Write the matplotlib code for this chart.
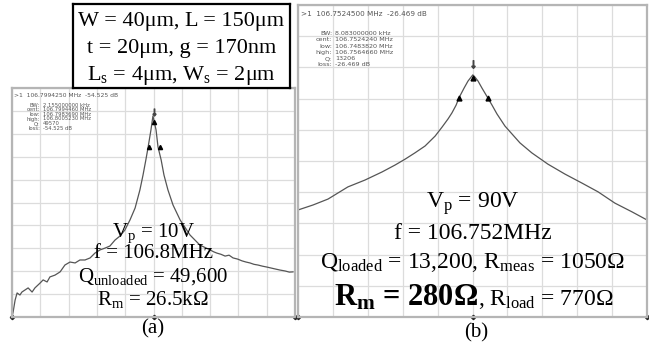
import matplotlib
matplotlib.use("Agg")
import matplotlib.pyplot as plt

plt.rcParams["font.family"] = ["Liberation Serif", "DejaVu Serif"]
plt.rcParams["mathtext.fontset"] = "custom"
plt.rcParams["mathtext.rm"] = "Liberation Serif"
plt.rcParams["mathtext.it"] = "Liberation Serif:italic"
plt.rcParams["mathtext.bf"] = "Liberation Serif:bold"

# screen traces in grid divisions (x from left, y from bottom), 10 x 10 grid
a_x = [0.00, 0.04, 0.11, 0.18, 0.28, 0.35, 0.46, 0.57, 0.71, 0.81, 0.99, 1.10, 1.24,
       1.34, 1.52, 1.70, 1.87, 2.05, 2.23, 2.40, 2.58, 2.76, 2.93, 3.11, 3.29, 3.46,
       3.64, 3.82, 3.99, 4.17, 4.35, 4.52, 4.63, 4.73, 4.81, 4.91, 4.98, 5.09, 5.16,
       5.27, 5.37, 5.51, 5.69, 5.94, 6.29, 6.64, 7.00, 7.12, 7.24, 7.38, 7.53, 7.67,
       7.81, 7.97, 8.13, 8.27, 8.41, 8.55, 8.69, 8.85, 9.01, 9.15, 9.29, 9.47, 9.65,
       9.80, 9.93]
a_y = [0.00, 0.22, 0.74, 1.05, 0.96, 1.09, 1.18, 1.27, 1.09, 1.27, 1.48, 1.62, 1.53,
       1.75, 1.83, 1.97, 2.27, 2.40, 2.36, 2.49, 2.49, 2.58, 2.79, 2.93, 3.01, 3.10,
       3.36, 3.54, 3.80, 4.24, 4.76, 5.55, 6.20, 6.86, 7.42, 8.17, 8.78, 8.17, 7.42,
       6.86, 6.20, 5.55, 4.89, 4.24, 3.58, 3.14, 2.93, 2.85, 2.79, 2.74, 2.66, 2.70,
       2.58, 2.53, 2.45, 2.40, 2.36, 2.30, 2.27, 2.22, 2.18, 2.14, 2.10, 2.05, 2.01,
       1.96, 1.97]
a_mark_x = [4.84, 5.00, 5.24]
a_mark_y = [7.42, 8.52, 7.42]

b_x = [0.00, 0.43, 0.86, 1.43, 1.92, 2.41, 2.78, 3.07, 3.35, 3.64, 3.93, 4.13, 4.30,
       4.41, 4.53, 4.61, 4.76, 4.87, 4.96, 5.01, 5.07, 5.16, 5.27, 5.44, 5.56, 5.70,
       5.93, 6.36, 6.70, 7.16, 7.65, 8.14, 8.60, 9.08, 9.57, 10.00]
b_y = [3.43, 3.59, 3.78, 4.17, 4.39, 4.65, 4.87, 5.06, 5.26, 5.48, 5.80, 6.09, 6.35,
       6.54, 6.79, 7.02, 7.34, 7.56, 7.69, 7.76, 7.69, 7.56, 7.34, 7.02, 6.79, 6.51,
       6.12, 5.58, 5.26, 4.90, 4.58, 4.29, 4.01, 3.65, 3.37, 3.11]
b_mark_x = [4.61, 5.01, 5.44]
b_mark_y = [7.02, 7.66, 7.02]

ref_x = [0, 5, 10]
ref_y = [0, 0, 0]

a_header = ">1  106.7994250 MHz  -54.525 dB"
b_header = ">1  106.7524500 MHz  -26.469 dB"
stat_labels = ["BW:", "cent:", "low:", "high:", "Q:", "loss:"]
a_values = ["2.155000000 kHz", "106.7994460 MHz", "106.7983690 MHz",
            "106.8005230 MHz", "49570", "-54.525 dB"]
b_values = ["8.083000000 kHz", "106.7524240 MHz", "106.7483820 MHz",
            "106.7564660 MHz", "13206", "-26.469 dB"]

params = ["W = 40μm, L = 150μm", "t = 20μm, g = 170nm",
          r"L$_\mathrm{s}$ = 4μm, W$_\mathrm{s}$ = 2μm"]
a_notes = [r"V$_\mathrm{p}$ = 10V", "f = 106.8MHz",
           r"Q$_\mathrm{unloaded}$ = 49,600", r"R$_\mathrm{m}$ = 26.5kΩ"]
b_notes = [r"V$_\mathrm{p}$ = 90V", "f = 106.752MHz",
           r"Q$_\mathrm{loaded}$ = 13,200, R$_\mathrm{meas}$ = 1050Ω"]
b_bold = r"R$_\mathbf{m}$ = 280Ω"
b_load = r", R$_\mathrm{load}$ = 770Ω"

W, H = 649.0, 350.0


def px(x, y):
    return x / W, 1 - y / H


def screen(fig, rect, xs, ys, mx, my, ms):
    x0, y0, x1, y1 = rect
    ax = fig.add_axes([x0 / W, 1 - y1 / H, (x1 - x0) / W, (y1 - y0) / H])
    ax.set_xlim(0, 10)
    ax.set_ylim(0, 10)
    ax.set_xticks(range(11))
    ax.set_yticks(range(11))
    ax.grid(True, color="#dcdcdc", lw=0.9)
    ax.tick_params(length=0, labelbottom=False, labelleft=False)
    for s in ax.spines.values():
        s.set_color("#b5b5b5")
        s.set_linewidth(1.6)
    ax.plot(xs, ys, color="#555555", lw=0.9)
    ax.plot(mx, my, "^", color="black", ms=ms, lw=0)
    ax.plot(ref_x, ref_y, "D", color="#222222", ms=2.2, lw=0, clip_on=False)
    ax.plot(mx[1], my[1] + 0.45, marker=r"$\downarrow$", color="#444444", ms=ms + 2)
    return ax


def stats(fig, hx, hy, cx, y0, dy, header, values, size, hsize):
    fig.text(*px(hx, hy), header, family="DejaVu Sans", fontsize=hsize, color="#555555")
    for i, (lab, val) in enumerate(zip(stat_labels, values)):
        y = y0 + i * dy
        fig.text(*px(cx, y), lab, family="DejaVu Sans", fontsize=size,
                 color="#555555", ha="right")
        fig.text(*px(cx + 3, y), val, family="DejaVu Sans", fontsize=size,
                 color="#555555", ha="left")


def makePlots():
    fig = plt.figure(figsize=(W / 100, H / 100), dpi=100)

    screen(fig, (12, 88, 295, 317), a_x, a_y, a_mark_x, a_mark_y, 3)
    screen(fig, (298, 5, 647, 317), b_x, b_y, b_mark_x, b_mark_y, 3.5)

    stats(fig, 14, 97, 40, 107, 4.5, a_header, a_values, 3.8, 4.3)
    stats(fig, 301, 16, 332, 35, 6.3, b_header, b_values, 4.6, 5.2)

    box = fig.add_axes([73 / W, 1 - 88 / H, 217 / W, 84 / H])
    box.set_zorder(2)
    box.set_xticks([])
    box.set_yticks([])
    for s in box.spines.values():
        s.set_color("black")
        s.set_linewidth(1.6)

    for t, yb in zip(params, [26, 53, 80]):
        fig.text(*px(181.5, yb), t, fontsize=16, ha="center", va="baseline", zorder=5)

    for t, yb in zip(a_notes, [237, 258, 282, 305]):
        fig.text(*px(153, yb), t, fontsize=15, ha="center", va="baseline")
    fig.text(*px(153, 333), "(a)", fontsize=15, ha="center", va="baseline")

    for t, yb in zip(b_notes, [208, 239, 268]):
        fig.text(*px(473, yb), t, fontsize=17, ha="center", va="baseline")
    fig.text(*px(478, 305), b_bold, fontsize=22, fontweight="bold",
             ha="right", va="baseline")
    fig.text(*px(478, 305), b_load, fontsize=17, ha="left", va="baseline")
    fig.text(*px(476, 337), "(b)", fontsize=15, ha="center", va="baseline")

    fig.savefig("out.png", dpi=100)


def main():
    makePlots()


if __name__ == "__main__":
    main()
